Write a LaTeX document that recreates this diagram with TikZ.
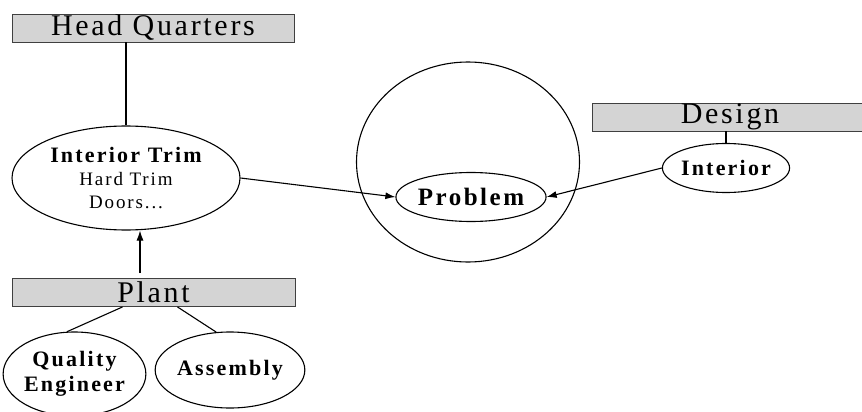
\documentclass[tikz,border=0pt]{standalone}
\usepackage{fontspec}
\setmainfont{Liberation Serif}
\newfontfamily\titlefont[LetterSpace=9]{Liberation Serif}
\newfontfamily\ovalfont[LetterSpace=10]{Liberation Serif}
\usetikzlibrary{shapes,arrows.meta}

\begin{document}
\begin{tikzpicture}[x=1pt,y=-1pt,>={Latex[length=10pt,width=7pt]},line width=1.1pt]
\tikzstyle{every node}=[inner sep=0pt]
\tikzstyle{unit}=[draw=black!75,line width=0.9pt,fill=black!17,minimum height=28pt,font=\titlefont\fontsize{30}{30}\selectfont]
\tikzstyle{oval}=[draw,ellipse,align=center,font=\ovalfont\bfseries\fontsize{22}{25}\selectfont]
\useasboundingbox (0,0) rectangle (862,412);
\clip (0,0) rectangle (862,412);
% units
\node[unit,minimum width=282pt] (HQ) at (153,28) {Head Quarters};
\node[unit,minimum width=283pt] (plant) at (153.5,292.5) {Plant};
\node[unit,minimum width=276pt] (design) at (730,117) {Design};
% ovals
\node[oval,minimum width=228pt,minimum height=104pt,font=\ovalfont\fontsize{19}{23.5}\selectfont] (trim) at (126,178)
  {\bfseries\fontsize{22}{23.5}\selectfont Interior Trim\\ Hard Trim\\ Doors...};
\node[draw,ellipse,minimum width=223pt,minimum height=200pt] (scope) at (468,162) {};
\node[oval,minimum width=117pt,minimum height=49pt,font=\ovalfont\bfseries\fontsize{25}{25}\selectfont] (problem) at (471,197) {Problem};
\node[oval,minimum width=126pt,minimum height=49pt] (interior) at (726,168) {Interior};
\node[oval,minimum width=125pt,minimum height=84pt] (quality) at (74.5,374) {Quality\\ Engineer};
\node[oval,minimum width=126pt,minimum height=76pt] (assembly) at (230,370) {Assembly};
\coordinate (plantup) at (140,273);
% links
\draw (HQ.south -| trim.north) -- (trim.north);
\draw (interior.north |- design.south) -- (interior.north);
\draw[->] (plantup) -- (plantup |- trim.south);
\draw[->] (trim.east) -- (problem.west);
\draw[->] (interior.west) -- (problem.east);
\draw ([xshift=-31pt]plant.south) -- (quality.100);
\draw ([xshift=24pt]plant.south) -- (assembly.110);
\end{tikzpicture}
\end{document}
